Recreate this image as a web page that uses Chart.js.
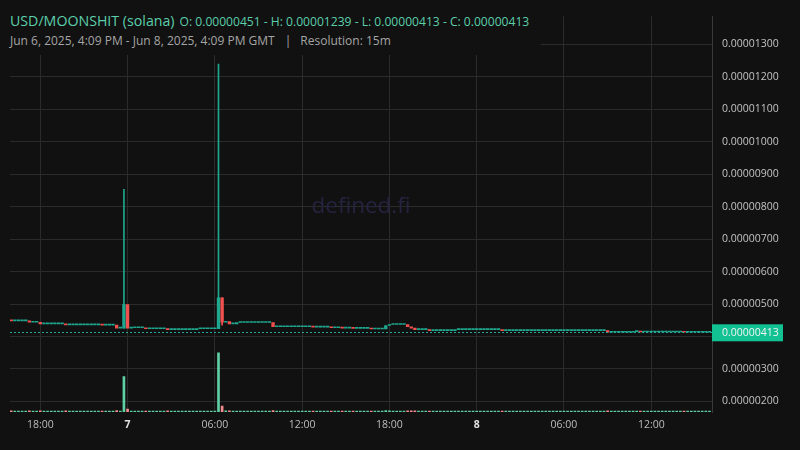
<!DOCTYPE html>
<html lang="en">
<head>
<meta charset="UTF-8">
<title>USD/MOONSHIT</title>
<script src="https://cdn.jsdelivr.net/npm/chart.js"></script>
<style>
    body { margin: 0; background: #111111; font-family: 'Open Sans', sans-serif; }
    .wrap { position: relative; width: 800px; height: 450px; }
    .hdr { position: absolute; left: 0; top: 0; width: 541px; height: 55px; background: #111111; }
    .line1 { position: absolute; left: 10px; top: 9px; line-height: 22px; color: #5ccfab; white-space: nowrap; }
    .line1 .pair { font-size: 14.2px; }
    .line1 .ohlc { font-size: 12.1px; margin-left: 5px; }
    .line2 { position: absolute; left: 10px; top: 31px; line-height: 20px; font-size: 12px; color: #a5a5a5; white-space: nowrap; }
    .line2 .sep { margin: 0 9px 0 10px; }
</style>
</head>
<body>
<div class="wrap">
    <canvas id="grafico" width="800" height="450"></canvas>
    <div class="hdr">
        <div class="line1"><span class="pair">USD/MOONSHIT (solana)</span><span class="ohlc">O: 0.00000451 - H: 0.00001239 - L: 0.00000413 - C: 0.00000413</span></div>
        <div class="line2">Jun 6, 2025, 4:09 PM - Jun 8, 2025, 4:09 PM GMT<span class="sep">|</span>Resolution: 15m</div>
    </div>
</div>
<script>
// prices in units of 1e-8 (0.00000448 -> 448), one candle per 15 min from Jun 6 16:00
const firstOpen = 451;
const closes = [
    448, 448, 448, 448, 448, 444, 444, 444,
    439, 439, 439, 439, 439, 439, 439, 436,
    436, 436, 436, 436, 436, 436, 436, 436,
    436, 435, 435, 435, 435, 426, 426, 498,
    426, 427, 427, 427, 427, 424, 424, 424,
    424, 424, 424, 421, 421, 421, 421, 421,
    421, 421, 421, 424, 424, 424, 424, 424,
    424, 519, 444, 446, 439, 439, 443, 443,
    443, 443, 443, 443, 443, 443, 443, 443,
    430, 430, 430, 430, 430, 430, 430, 430,
    430, 430, 430, 429, 429, 429, 429, 429,
    427, 427, 427, 426, 426, 426, 425, 425,
    425, 425, 425, 423, 423, 423, 423, 434,
    437, 437, 437, 437, 437, 430, 426, 421,
    421, 421, 421, 418, 418, 418, 418, 418,
    418, 418, 421, 421, 421, 421, 421, 421,
    421, 421, 421, 421, 421, 421, 421, 418,
    418, 418, 418, 418, 418, 418, 418, 418,
    418, 418, 418, 418, 418, 418, 418, 418,
    418, 418, 418, 418, 418, 418, 418, 418,
    418, 418, 418, 418, 413, 413, 413, 413,
    413, 413, 413, 415, 415, 414, 414, 414,
    414, 414, 414, 414, 414, 414, 414, 414,
    414, 413, 413, 413, 413, 413, 413, 413,
    413
];
// candles with visible wicks
const wickIdx  = [31, 57, 58];
const wickHigh = [853, 1239, 519];
const wickLow  = [426, 424, 435];

const volumes = [
    120, 40, 40, 40, 40, 110, 40, 40,
    130, 40, 40, 40, 40, 40, 40, 110,
    40, 40, 40, 40, 40, 40, 40, 40,
    40, 80, 40, 40, 40, 150, 40, 3600,
    300, 60, 40, 40, 40, 100, 40, 40,
    40, 40, 40, 110, 40, 40, 40, 40,
    40, 40, 40, 90, 40, 40, 40, 40,
    50, 6000, 600, 120, 130, 50, 100, 40,
    40, 40, 40, 40, 40, 40, 40, 40,
    140, 40, 40, 40, 40, 40, 40, 40,
    40, 40, 40, 70, 40, 40, 40, 40,
    90, 40, 40, 60, 40, 40, 60, 40,
    40, 40, 40, 80, 40, 40, 40, 150,
    110, 40, 40, 40, 40, 120, 110, 130,
    40, 40, 40, 90, 40, 40, 40, 40,
    40, 40, 90, 40, 40, 40, 40, 40,
    40, 40, 40, 40, 40, 40, 40, 90,
    40, 40, 40, 40, 40, 40, 40, 40,
    40, 40, 40, 40, 40, 40, 40, 40,
    40, 40, 40, 40, 40, 40, 40, 40,
    40, 40, 40, 40, 120, 40, 40, 40,
    40, 40, 40, 70, 40, 60, 40, 40,
    40, 40, 40, 40, 40, 40, 40, 40,
    40, 70, 50, 40, 40, 40, 40, 40,
    40
];

const tickIdx    = [8, 32, 56, 80, 104, 128, 152, 176];
const tickLabels = ['18:00', '7', '06:00', '12:00', '18:00', '8', '06:00', '12:00'];
const priceTicks = [200, 300, 400, 500, 600, 700, 800, 900, 1000, 1100, 1200, 1300];
const lastPrice = 413;

const UP = '#1fa88f', DOWN = '#f0514f';
const VOL_UP = '#5fcfa4', VOL_DOWN = '#f28b8b';

const opens = closes.map((c, i) => i === 0 ? firstOpen : closes[i - 1]);
const isUp = closes.map((c, i) => c >= opens[i]);

const corpo = closes.map((c, i) => ({ x: i, y: [opens[i], c] }));
const pavio = wickIdx.map((idx, k) => ({ x: idx, y: [wickLow[k], wickHigh[k]] }));
const volume = volumes.map((v, i) => ({ x: i, y: v }));

const grid = '#2b2b2b';

const extras = {
    id: 'extras',
    beforeDatasetsDraw(chart) {
        const ctx = chart.ctx;
        const a = chart.chartArea;
        ctx.save();
        ctx.font = '22.5px "Open Sans"';
        ctx.fillStyle = '#25233f';
        ctx.textAlign = 'center';
        ctx.textBaseline = 'middle';
        ctx.fillText('defined.fi', (a.left + a.right) / 2, 207);
        ctx.restore();
    },
    afterDatasetsDraw(chart) {
        const ctx = chart.ctx;
        const a = chart.chartArea;
        const y = Math.round(chart.scales.y.getPixelForValue(lastPrice)) + 0.5;
        ctx.save();
        ctx.strokeStyle = '#26a69a';
        ctx.lineWidth = 1;
        ctx.setLineDash([2, 2]);
        ctx.beginPath();
        ctx.moveTo(a.left, y);
        ctx.lineTo(a.right, y);
        ctx.stroke();
        ctx.restore();
    },
    afterDraw(chart) {
        const ctx = chart.ctx;
        const a = chart.chartArea;
        const y = chart.scales.y.getPixelForValue(lastPrice);
        ctx.save();
        ctx.fillStyle = '#12c293';
        ctx.fillRect(a.right, y - 8, 71, 17);
        ctx.fillStyle = '#f2f2f2';
        ctx.font = '10.5px "Open Sans"';
        ctx.textBaseline = 'middle';
        ctx.fillText((lastPrice * 1e-8).toFixed(8), a.right + 10, y + 1);
        ctx.restore();
    }
};

Chart.defaults.font.family = "'Open Sans', sans-serif";

new Chart(document.getElementById('grafico'), {
    type: 'bar',
    data: {
        datasets: [
            {
                label: 'Volume',
                data: volume,
                yAxisID: 'yv',
                grouped: false,
                barThickness: 2,
                minBarLength: 1,
                backgroundColor: volume.map((v, i) => isUp[i] ? VOL_UP : VOL_DOWN),
                borderWidth: 0
            },
            {
                label: 'Pavio',
                data: pavio,
                yAxisID: 'y',
                grouped: false,
                barThickness: 1,
                backgroundColor: wickIdx.map(idx => isUp[idx] ? UP : DOWN),
                borderWidth: 0
            },
            {
                label: 'Corpo',
                data: corpo,
                yAxisID: 'y',
                grouped: false,
                barThickness: 2.7,
                minBarLength: 1,
                backgroundColor: corpo.map((c, i) => isUp[i] ? UP : DOWN),
                borderWidth: 0
            }
        ]
    },
    options: {
        responsive: false,
        animation: false,
        devicePixelRatio: 1,
        layout: { padding: { left: 10, top: 3.7, right: 0, bottom: 0 } },
        plugins: {
            legend: { display: false },
            tooltip: { enabled: false }
        },
        scales: {
            x: {
                type: 'linear',
                offset: false,
                min: -0.33,
                max: 192.7,
                afterBuildTicks: s => { s.ticks = tickIdx.map(v => ({ value: v })); },
                afterFit: s => { s.height = 38; },
                grid: { color: grid, drawTicks: false, offset: false },
                border: { display: false },
                ticks: {
                    autoSkip: false,
                    maxRotation: 0,
                    padding: 7,
                    callback: v => tickLabels[tickIdx.indexOf(v)],
                    color: c => (c.index === 1 || c.index === 5) ? '#e0e0e0' : '#bdbdbd',
                    font: c => ({ size: 10.5, weight: (c.index === 1 || c.index === 5) ? 'bold' : 'normal' })
                }
            },
            y: {
                position: 'right',
                min: 167.6,
                max: 1385.8,
                afterBuildTicks: s => { s.ticks = priceTicks.map(v => ({ value: v })); },
                afterFit: s => { s.width = 88; },
                grid: { color: grid, drawTicks: false },
                border: { display: true, color: '#3a3a3a' },
                ticks: {
                    padding: 10,
                    color: '#c3c3c3',
                    font: { size: 10.5 },
                    callback: v => (v * 1e-8).toFixed(8)
                }
            },
            yv: {
                display: false,
                min: 0,
                max: 40200
            }
        }
    },
    plugins: [extras]
});
</script>
</body>
</html>
